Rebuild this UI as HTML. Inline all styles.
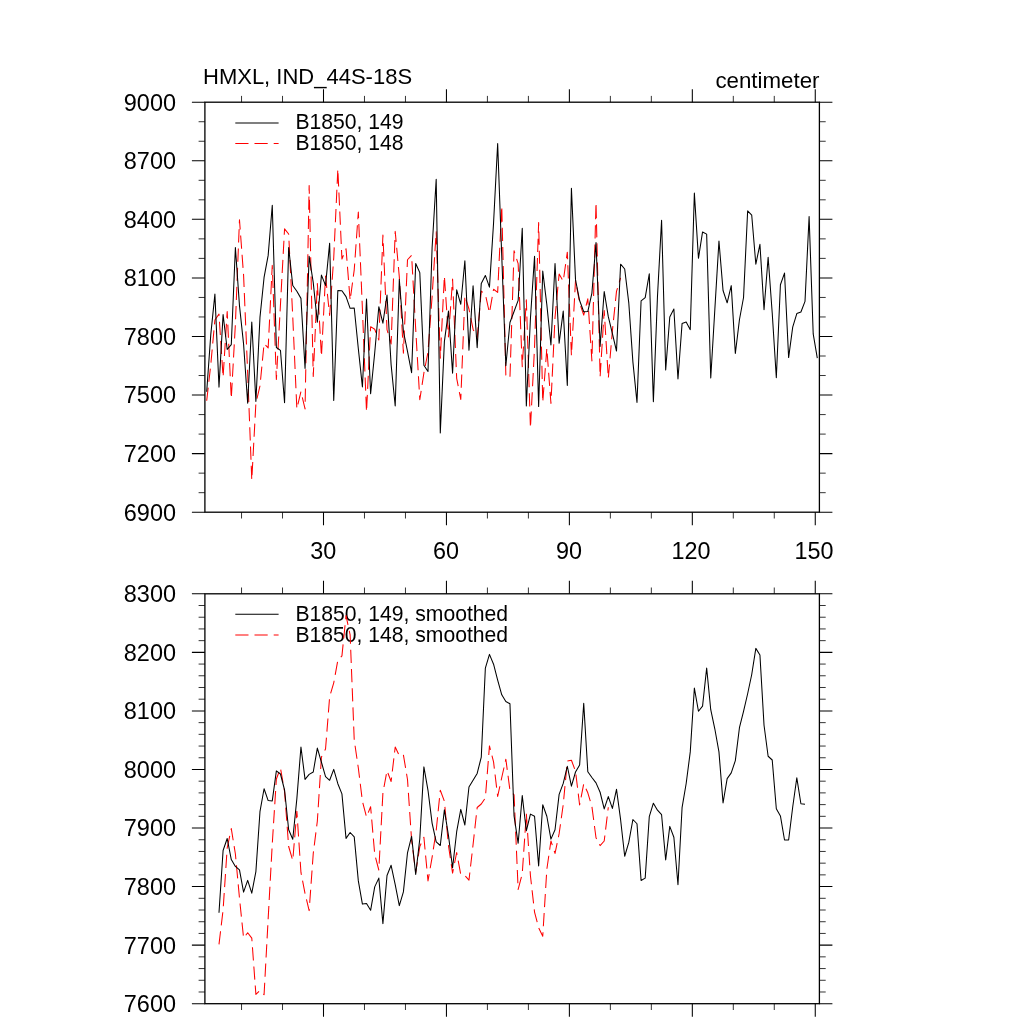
<!DOCTYPE html><html><head><meta charset="utf-8"><title>HMXL</title><style>html,body{margin:0;padding:0;background:#fff}svg{display:block;will-change:transform}text{font-family:"Liberation Sans",Arial,Helvetica,sans-serif;fill:#000}</style></head><body>
<svg width="1024" height="1024" viewBox="0 0 1024 1024">
<rect width="1024" height="1024" fill="#fff"/>
<g stroke="#000" stroke-width="1.3" fill="none" stroke-linecap="butt">
<rect x="204.90" y="102.20" width="614.50" height="410.00"/>
</g>
<g stroke="#000" fill="none">
<path stroke-width="1.05" d="M323.50 102.20v-13.00M323.50 512.20v13.00M446.44 102.20v-13.00M446.44 512.20v13.00M569.38 102.20v-13.00M569.38 512.20v13.00M692.32 102.20v-13.00M692.32 512.20v13.00M815.26 102.20v-13.00M815.26 512.20v13.00M204.90 102.20h-13M819.40 102.20h13M204.90 160.77h-13M819.40 160.77h13M204.90 219.34h-13M819.40 219.34h13M204.90 277.91h-13M819.40 277.91h13M204.90 336.49h-13M819.40 336.49h13M204.90 395.06h-13M819.40 395.06h13M204.90 453.63h-13M819.40 453.63h13M204.90 512.20h-13M819.40 512.20h13"/>
<path stroke-width="0.8" d="M241.54 102.20v-6.30M241.54 512.20v6.30M282.52 102.20v-6.30M282.52 512.20v6.30M364.48 102.20v-6.30M364.48 512.20v6.30M405.46 102.20v-6.30M405.46 512.20v6.30M487.42 102.20v-6.30M487.42 512.20v6.30M528.40 102.20v-6.30M528.40 512.20v6.30M610.36 102.20v-6.30M610.36 512.20v6.30M651.34 102.20v-6.30M651.34 512.20v6.30M733.30 102.20v-6.30M733.30 512.20v6.30M774.28 102.20v-6.30M774.28 512.20v6.30M204.90 121.72h-6.3M819.40 121.72h6.3M204.90 141.25h-6.3M819.40 141.25h6.3M204.90 180.30h-6.3M819.40 180.30h6.3M204.90 199.82h-6.3M819.40 199.82h6.3M204.90 238.87h-6.3M819.40 238.87h6.3M204.90 258.39h-6.3M819.40 258.39h6.3M204.90 297.44h-6.3M819.40 297.44h6.3M204.90 316.96h-6.3M819.40 316.96h6.3M204.90 356.01h-6.3M819.40 356.01h6.3M204.90 375.53h-6.3M819.40 375.53h6.3M204.90 414.58h-6.3M819.40 414.58h6.3M204.90 434.10h-6.3M819.40 434.10h6.3M204.90 473.15h-6.3M819.40 473.15h6.3M204.90 492.68h-6.3M819.40 492.68h6.3"/>
</g>
<text transform="translate(176.0 110.60) scale(1.01 1)" font-size="23.25" text-anchor="end">9000</text>
<text transform="translate(176.0 169.17) scale(1.01 1)" font-size="23.25" text-anchor="end">8700</text>
<text transform="translate(176.0 227.74) scale(1.01 1)" font-size="23.25" text-anchor="end">8400</text>
<text transform="translate(176.0 286.31) scale(1.01 1)" font-size="23.25" text-anchor="end">8100</text>
<text transform="translate(176.0 344.89) scale(1.01 1)" font-size="23.25" text-anchor="end">7800</text>
<text transform="translate(176.0 403.46) scale(1.01 1)" font-size="23.25" text-anchor="end">7500</text>
<text transform="translate(176.0 462.03) scale(1.01 1)" font-size="23.25" text-anchor="end">7200</text>
<text transform="translate(176.0 520.60) scale(1.01 1)" font-size="23.25" text-anchor="end">6900</text>
<g stroke="#000" stroke-width="1.3" fill="none" stroke-linecap="butt">
<rect x="204.90" y="593.80" width="614.50" height="409.90"/>
</g>
<g stroke="#000" fill="none">
<path stroke-width="1.05" d="M323.50 593.80v-13.00M323.50 1003.70v13.00M446.44 593.80v-13.00M446.44 1003.70v13.00M569.38 593.80v-13.00M569.38 1003.70v13.00M692.32 593.80v-13.00M692.32 1003.70v13.00M815.26 593.80v-13.00M815.26 1003.70v13.00M204.90 593.80h-13M819.40 593.80h13M204.90 652.36h-13M819.40 652.36h13M204.90 710.91h-13M819.40 710.91h13M204.90 769.47h-13M819.40 769.47h13M204.90 828.03h-13M819.40 828.03h13M204.90 886.59h-13M819.40 886.59h13M204.90 945.14h-13M819.40 945.14h13M204.90 1003.70h-13M819.40 1003.70h13"/>
<path stroke-width="0.8" d="M241.54 593.80v-6.30M241.54 1003.70v6.30M282.52 593.80v-6.30M282.52 1003.70v6.30M364.48 593.80v-6.30M364.48 1003.70v6.30M405.46 593.80v-6.30M405.46 1003.70v6.30M487.42 593.80v-6.30M487.42 1003.70v6.30M528.40 593.80v-6.30M528.40 1003.70v6.30M610.36 593.80v-6.30M610.36 1003.70v6.30M651.34 593.80v-6.30M651.34 1003.70v6.30M733.30 593.80v-6.30M733.30 1003.70v6.30M774.28 593.80v-6.30M774.28 1003.70v6.30M204.90 605.51h-6.3M819.40 605.51h6.3M204.90 617.22h-6.3M819.40 617.22h6.3M204.90 628.93h-6.3M819.40 628.93h6.3M204.90 640.65h-6.3M819.40 640.65h6.3M204.90 664.07h-6.3M819.40 664.07h6.3M204.90 675.78h-6.3M819.40 675.78h6.3M204.90 687.49h-6.3M819.40 687.49h6.3M204.90 699.20h-6.3M819.40 699.20h6.3M204.90 722.63h-6.3M819.40 722.63h6.3M204.90 734.34h-6.3M819.40 734.34h6.3M204.90 746.05h-6.3M819.40 746.05h6.3M204.90 757.76h-6.3M819.40 757.76h6.3M204.90 781.18h-6.3M819.40 781.18h6.3M204.90 792.89h-6.3M819.40 792.89h6.3M204.90 804.61h-6.3M819.40 804.61h6.3M204.90 816.32h-6.3M819.40 816.32h6.3M204.90 839.74h-6.3M819.40 839.74h6.3M204.90 851.45h-6.3M819.40 851.45h6.3M204.90 863.16h-6.3M819.40 863.16h6.3M204.90 874.87h-6.3M819.40 874.87h6.3M204.90 898.30h-6.3M819.40 898.30h6.3M204.90 910.01h-6.3M819.40 910.01h6.3M204.90 921.72h-6.3M819.40 921.72h6.3M204.90 933.43h-6.3M819.40 933.43h6.3M204.90 956.85h-6.3M819.40 956.85h6.3M204.90 968.57h-6.3M819.40 968.57h6.3M204.90 980.28h-6.3M819.40 980.28h6.3M204.90 991.99h-6.3M819.40 991.99h6.3"/>
</g>
<text transform="translate(176.0 602.20) scale(1.01 1)" font-size="23.25" text-anchor="end">8300</text>
<text transform="translate(176.0 660.76) scale(1.01 1)" font-size="23.25" text-anchor="end">8200</text>
<text transform="translate(176.0 719.31) scale(1.01 1)" font-size="23.25" text-anchor="end">8100</text>
<text transform="translate(176.0 777.87) scale(1.01 1)" font-size="23.25" text-anchor="end">8000</text>
<text transform="translate(176.0 836.43) scale(1.01 1)" font-size="23.25" text-anchor="end">7900</text>
<text transform="translate(176.0 894.99) scale(1.01 1)" font-size="23.25" text-anchor="end">7800</text>
<text transform="translate(176.0 953.54) scale(1.01 1)" font-size="23.25" text-anchor="end">7700</text>
<text transform="translate(176.0 1012.10) scale(1.01 1)" font-size="23.25" text-anchor="end">7600</text>
<text x="323.20" y="559.0" font-size="23.40" text-anchor="middle">30</text>
<text x="446.14" y="559.0" font-size="23.40" text-anchor="middle">60</text>
<text x="569.08" y="559.0" font-size="23.40" text-anchor="middle">90</text>
<text x="691.02" y="559.0" font-size="23.40" text-anchor="middle">120</text>
<text x="813.96" y="559.0" font-size="23.40" text-anchor="middle">150</text>
<text x="203.0" y="83.7" font-size="22.00">HMXL, IND_44S-18S</text>
<text x="819.5" y="87.5" font-size="22.30" text-anchor="end">centimeter</text>
<path d="M235.3 123.00H278.6" stroke="#000" stroke-width="1.05" fill="none"/>
<path d="M235.3 143.40H278.6" stroke="#f00" stroke-width="1.05" fill="none" stroke-dasharray="13.2 6"/>
<text x="295.4" y="129.40" font-size="21.15">B1850, 149</text>
<text x="295.4" y="150.00" font-size="21.15">B1850, 148</text>
<path d="M235.3 614.30H278.6" stroke="#000" stroke-width="1.05" fill="none"/>
<path d="M235.3 635.00H278.6" stroke="#f00" stroke-width="1.05" fill="none" stroke-dasharray="13.2 6"/>
<text x="295.4" y="620.90" font-size="21.15">B1850, 149, smoothed</text>
<text x="295.4" y="641.60" font-size="21.15">B1850, 148, smoothed</text>
<clipPath id="c1"><rect x="204.90" y="102.20" width="614.50" height="410.00"/></clipPath>
<clipPath id="c2"><rect x="204.90" y="593.80" width="614.50" height="409.90"/></clipPath>
<g clip-path="url(#c1)" fill="none" stroke-linejoin="round">
<polyline points="206.70,400.77 210.80,364.42 214.90,319.93 218.99,314.12 223.09,377.20 227.19,311.57 231.29,398.63 235.39,323.92 239.48,219.85 243.58,275.13 247.68,373.06 251.78,480.01 255.88,403.13 259.97,386.00 264.07,343.61 268.17,347.92 272.27,265.40 276.37,379.45 280.46,304.60 284.56,228.85 288.66,234.04 292.76,316.98 296.86,408.86 300.95,391.55 305.05,408.97 309.15,185.52 313.25,376.46 317.35,283.42 321.44,356.40 325.54,275.96 329.64,315.48 333.74,257.78 337.84,168.94 341.93,259.06 346.03,248.70 350.13,300.33 354.23,269.82 358.33,212.00 362.42,309.27 366.52,411.93 370.62,326.67 374.72,329.22 378.82,340.07 382.91,235.08 387.01,329.53 391.11,343.95 395.21,231.40 399.31,276.90 403.40,353.27 407.50,259.75 411.60,255.37 415.70,329.02 419.80,399.70 423.89,372.96 427.99,352.12 432.09,296.74 436.19,231.70 440.29,358.12 444.38,275.96 448.48,336.96 452.58,279.11 456.68,378.37 460.78,399.43 464.87,295.78 468.97,309.03 473.07,329.17 477.17,338.39 481.27,291.14 485.36,294.37 489.46,312.91 493.56,289.24 497.66,292.39 501.76,206.00 505.85,375.24 509.95,377.87 514.05,250.78 518.15,263.70 522.25,366.70 526.34,299.76 530.44,428.08 534.54,347.22 538.64,222.49 542.74,402.30 546.83,348.26 550.93,403.40 555.03,317.41 559.13,273.97 563.23,281.18 567.32,252.19 571.42,355.53 575.52,280.27 579.62,302.91 583.72,315.09 587.81,298.78 591.91,360.96 596.01,202.53 600.11,376.95 604.21,310.63 608.30,378.38 612.40,330.72 616.50,291.35 620.60,277.78" stroke="#f00" stroke-width="1.05" stroke-dasharray="13.2 6"/>
<polyline points="206.70,391.78 210.80,334.37 214.90,294.13 218.99,387.10 223.09,314.55 227.19,349.46 231.29,344.57 235.39,247.49 239.48,305.65 243.58,344.13 247.68,403.19 251.78,321.96 255.88,401.49 259.97,317.41 264.07,277.43 268.17,255.41 272.27,205.18 276.37,347.52 280.46,350.33 284.56,402.67 288.66,247.49 292.76,285.53 296.86,291.23 300.95,298.38 305.05,368.40 309.15,256.34 313.25,282.65 317.35,322.16 321.44,275.07 325.54,285.39 329.64,243.17 333.74,400.42 337.84,290.59 341.93,290.76 346.03,296.67 350.13,308.34 354.23,308.00 358.33,348.71 362.42,386.92 366.52,299.07 370.62,393.68 374.72,352.78 378.82,306.73 382.91,323.22 387.01,295.02 391.11,364.61 395.21,405.97 399.31,279.45 403.40,331.24 407.50,351.30 411.60,372.63 415.70,263.59 419.80,272.65 423.89,365.27 427.99,371.45 432.09,248.03 436.19,179.17 440.29,432.99 444.38,341.62 448.48,311.00 452.58,373.29 456.68,289.78 460.78,304.28 464.87,260.76 468.97,350.33 473.07,285.84 477.17,347.62 481.27,283.39 485.36,275.45 489.46,287.12 493.56,222.98 497.66,143.48 501.76,256.25 505.85,365.75 509.95,322.45 514.05,311.54 518.15,300.41 522.25,228.34 526.34,406.08 530.44,318.51 534.54,256.19 538.64,406.40 542.74,271.11 546.83,304.64 550.93,345.00 555.03,263.52 559.13,343.18 563.23,311.09 567.32,385.39 571.42,188.27 575.52,279.88 579.62,300.51 583.72,311.71 587.81,311.56 591.91,293.03 596.01,242.42 600.11,346.45 604.21,291.48 608.30,316.68 612.40,333.61 616.50,351.04 620.60,264.20 624.70,268.98 628.79,302.93 632.89,361.84 636.99,402.40 641.09,300.96 645.19,297.60 649.28,273.84 653.38,401.81 657.48,296.31 661.58,220.24 665.68,370.02 669.77,316.96 673.87,309.08 677.97,379.00 682.07,323.60 686.17,322.02 690.26,329.66 694.36,193.13 698.46,258.32 702.56,231.95 706.66,234.12 710.75,377.94 714.85,309.30 718.95,241.00 723.05,290.54 727.15,302.83 731.24,285.64 735.34,353.50 739.44,319.74 743.54,297.48 747.64,210.90 751.73,215.21 755.83,264.21 759.93,244.30 764.03,309.74 768.13,257.33 772.22,312.93 776.32,377.78 780.42,284.79 784.52,273.09 788.62,357.58 792.71,327.18 796.81,313.57 800.91,312.06 805.01,301.35 809.11,216.49 813.20,333.93 817.30,358.09" stroke="#000" stroke-width="1.05"/>
</g>
<g clip-path="url(#c2)" fill="none" stroke-linejoin="round">
<polyline points="218.99,944.40 223.09,909.89 227.19,847.95 231.29,828.60 235.39,854.01 239.48,898.05 243.58,938.10 247.68,932.70 251.78,938.10 255.88,994.40 259.97,990.50 264.07,994.70 268.17,918.60 272.27,843.93 276.37,779.00 280.46,768.10 284.56,791.50 288.66,846.50 292.76,860.50 296.86,811.20 300.95,872.43 305.05,893.59 309.15,910.60 313.25,853.54 317.35,820.95 321.44,757.00 325.54,749.00 329.64,696.90 333.74,682.80 337.84,660.20 341.93,655.90 346.03,615.60 350.13,634.96 354.23,740.00 358.33,768.04 362.42,801.25 366.52,816.90 370.62,806.70 374.72,854.40 378.82,870.00 382.91,792.90 387.01,770.60 391.11,781.50 395.21,747.00 399.31,755.60 403.40,754.80 407.50,779.47 411.60,840.13 415.70,872.30 419.80,846.60 423.89,837.20 427.99,880.90 432.09,857.41 436.19,830.52 440.29,790.30 444.38,801.25 448.48,845.56 452.58,873.10 456.68,852.50 460.78,874.70 464.87,875.50 468.97,880.20 473.07,844.55 477.17,807.50 481.27,804.00 485.36,798.00 489.46,745.90 493.56,761.90 497.66,796.40 501.76,777.50 505.85,759.20 509.95,790.30 514.05,794.80 518.15,889.40 522.25,873.75 526.34,813.60 530.44,875.81 534.54,912.04 538.64,927.77 542.74,936.25 546.83,869.30 550.93,841.00 555.03,853.40 559.13,833.69 563.23,804.56 567.32,761.10 571.42,760.30 575.52,771.13 579.62,805.00 583.72,783.80 587.81,792.80 591.91,806.60 596.01,837.80 600.11,845.60 604.21,841.00 608.30,807.30" stroke="#f00" stroke-width="1.05" stroke-dasharray="13.2 6"/>
<polyline points="218.99,912.70 223.09,850.50 227.19,838.50 231.29,859.60 235.39,866.40 239.48,869.80 243.58,892.10 247.68,880.40 251.78,893.20 255.88,871.60 259.97,811.70 264.07,788.75 268.17,800.60 272.27,800.90 276.37,770.90 280.46,774.00 284.56,790.00 288.66,829.80 292.76,839.20 296.86,798.60 300.95,747.00 305.05,779.40 309.15,774.40 313.25,772.00 317.35,748.10 321.44,762.24 325.54,776.70 329.64,780.30 333.74,769.40 337.84,783.73 341.93,793.90 346.03,838.40 350.13,832.50 354.23,836.90 358.33,880.90 362.42,904.10 366.52,903.60 370.62,910.30 374.72,886.90 378.82,878.10 382.91,923.60 387.01,875.50 391.11,865.30 395.21,884.62 399.31,905.60 403.40,891.90 407.50,852.80 411.60,836.40 415.70,874.40 419.80,838.75 423.89,766.90 427.99,790.30 432.09,823.10 436.19,841.90 440.29,845.50 444.38,809.80 448.48,835.60 452.58,867.70 456.68,831.70 460.78,809.40 464.87,825.00 468.97,787.00 473.07,780.20 477.17,773.40 481.27,757.20 485.36,668.10 489.46,654.40 493.56,664.20 497.66,680.10 501.76,694.80 505.85,701.50 509.95,703.75 514.05,815.90 518.15,843.30 522.25,795.60 526.34,830.80 530.44,814.10 534.54,816.25 538.64,865.90 542.74,804.70 546.83,816.25 550.93,839.10 555.03,829.70 559.13,794.40 563.23,783.40 567.32,766.25 571.42,786.20 575.52,772.00 579.62,765.00 583.72,703.30 587.81,771.70 591.91,777.50 596.01,782.86 600.11,792.25 604.21,808.90 608.30,796.60 612.40,808.40 616.50,789.30 620.60,819.69 624.70,856.25 628.79,842.43 632.89,819.50 636.99,823.75 641.09,880.50 645.19,878.10 649.28,816.70 653.38,803.20 657.48,810.20 661.58,814.70 665.68,860.00 669.77,826.40 673.87,837.30 677.97,884.70 682.07,807.70 686.17,783.51 690.26,751.90 694.36,688.10 698.46,711.25 702.56,706.10 706.66,668.00 710.75,709.70 714.85,729.03 718.95,751.90 723.05,803.00 727.15,778.60 731.24,772.90 735.34,760.60 739.44,727.70 743.54,711.47 747.64,693.75 751.73,674.50 755.83,648.40 759.93,655.00 764.03,725.30 768.13,756.25 772.22,760.00 776.32,808.75 780.42,815.90 784.52,840.00 788.62,840.00 792.71,806.98 796.81,777.80 800.91,803.75 805.01,804.20" stroke="#000" stroke-width="1.05"/>
</g>
</svg></body></html>
